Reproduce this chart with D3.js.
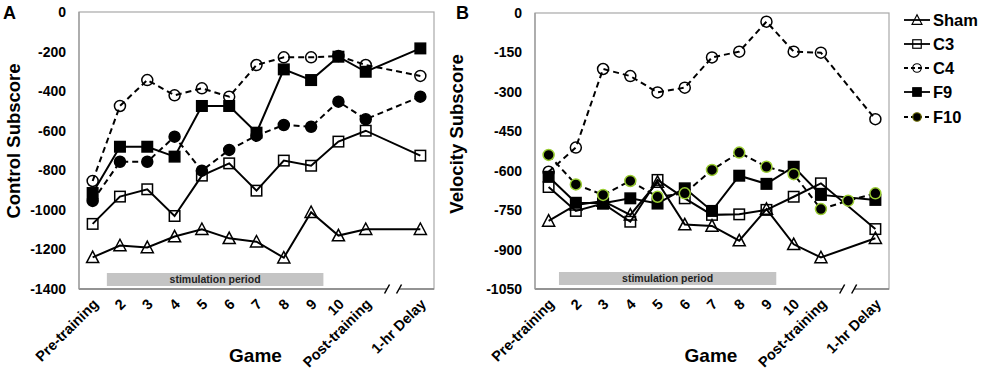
<!DOCTYPE html>
<html><head><meta charset="utf-8">
<script src="https://cdn.jsdelivr.net/npm/d3@7/dist/d3.min.js"></script>
<style>
body{margin:0;background:#fff;}
svg{display:block;font-family:"Liberation Sans",Arial,sans-serif;}
</style></head>
<body>
<svg id="chart" width="982" height="373"></svg>
<script>
// ---- data ----
const categories = ["Pre-training","2","3","4","5","6","7","8","9","10","Post-training","gap","1-hr Delay"];
const tickLabels = ["Pre-training","2","3","4","5","6","7","8","9","10","Post-training","","1-hr Delay"];
const seriesNames = ["Sham","C3","C4","F9","F10"];

// Panel A: Control Subscore
const shamA = [-1240,-1180,-1190,-1135,-1098,-1144,-1161,-1242,-1012,-1130,-1098,null,-1098];
const c3A   = [-1071,-933,-896,-1031,-827,-765,-903,-751,-777,-655,-600,null,-726];
const c4A   = [-854,-475,-344,-421,-386,-428,-268,-229,-229,-222,-268,null,-323];
const f9A   = [-915,-681,-681,-731,-475,-475,-610,-290,-344,-226,-302,null,-184];
const f10A  = [-955,-757,-757,-630,-802,-697,-625,-571,-580,-453,-542,null,-428];
const yTicksA = [0,-200,-400,-600,-800,-1000,-1200,-1400];

// Panel B: Velocity Subscore
const shamB = [-791,-730,-715,-768,-643,-805,-810,-866,-746,-880,-930,null,-857];
const c3B   = [-662,-753,-725,-794,-635,-705,-768,-766,-749,-699,-648,null,-822];
const c4B   = [-604,-512,-213,-240,-302,-284,-169,-147,-33,-147,-151,null,-404];
const f9B   = [-623,-722,-724,-705,-725,-667,-753,-619,-650,-585,-692,null,-711];
const f10B  = [-540,-652,-692,-639,-699,-686,-597,-531,-585,-613,-746,-714,-686];
const yTicksB = [0,-150,-300,-450,-600,-750,-900,-1050];

const stimStart = "Pre-training", stimEnd = "9"; // bar spans half a slot beyond these

// ---- styles ----
const styles = {
  Sham:{shape:"triangle", fill:"none", stroke:"#000", dash:null},
  C3:{shape:"square", fill:"none", stroke:"#000", dash:null},
  C4:{shape:"circle", fill:"none", stroke:"#000", dash:"6,4"},
  F9:{shape:"square", fill:"#000", stroke:"#000", dash:null},
  F10:{shape:"circle", fill:"#000", stroke:"#000", dash:"6,4"}
};

const svg = d3.select("#chart");

function marker(g, shape, x, y, size, fill, stroke, sw){
  if(shape==="square"){
    g.append("rect").attr("x",x-size/2).attr("y",y-size/2).attr("width",size).attr("height",size)
      .attr("fill",fill).attr("stroke",stroke).attr("stroke-width",sw);
  } else if(shape==="circle"){
    g.append("circle").attr("cx",x).attr("cy",y).attr("r",size/2)
      .attr("fill",fill).attr("stroke",stroke).attr("stroke-width",sw);
  } else {
    const h=size*0.95, w=size*1.1;
    g.append("path").attr("d",`M${x},${y-h/2-1}L${x+w/2},${y+h/2}L${x-w/2},${y+h/2}Z`)
      .attr("fill",fill).attr("stroke",stroke).attr("stroke-width",sw);
  }
}

function panel(opt){
  const {x0,x1,yTop,yBot,domainMin,ticks,series,title,letter,letterX,titleX,titleY,f10Stroke,stimX0Off,stimX1Off,stimY} = opt;
  const x = d3.scalePoint().domain(categories).range([x0,x1]).padding(0.5);
  const y = d3.scaleLinear().domain([domainMin,0]).range([yBot,yTop]);
  const g = svg.append("g");
  const step = x.step();

  // frame
  g.append("rect").attr("x",x0).attr("y",yTop).attr("width",x1-x0).attr("height",yBot-yTop)
    .attr("fill","none").attr("stroke","#a8a8a8").attr("stroke-width",1.2);
  g.append("line").attr("x1",x0).attr("x2",x1).attr("y1",yBot).attr("y2",yBot).attr("stroke","#808080").attr("stroke-width",1.5);
  g.append("line").attr("x1",x0).attr("x2",x0).attr("y1",yTop).attr("y2",yBot).attr("stroke","#9a9a9a").attr("stroke-width",1.2);

  // axis break
  const bx = x("gap");
  g.append("rect").attr("x",bx-6).attr("y",yBot-3).attr("width",12).attr("height",6).attr("fill","#fff");
  [-6,6].forEach(o=>{
    g.append("line").attr("x1",bx+o-2.5).attr("y1",yBot+4.5).attr("x2",bx+o+2.5).attr("y2",yBot-4.5)
      .attr("stroke","#000").attr("stroke-width",1.5);
  });

  // stimulation bar
  const sx0 = x(stimStart)+step*stimX0Off, sx1 = x(stimEnd)+step*stimX1Off;
  g.append("rect").attr("x",sx0).attr("y",stimY).attr("width",sx1-sx0).attr("height",13).attr("fill","#c4c4c4");
  g.append("text").attr("x",(sx0+sx1)/2).attr("y",stimY+10).attr("text-anchor","middle")
    .attr("font-size",10.5).attr("font-weight","bold").attr("fill","#222").text("stimulation period");

  // y axis
  const ya = d3.axisLeft(y).tickValues(ticks).tickSize(0).tickPadding(13).tickFormat(d=>String(d));
  const yg = g.append("g").attr("transform",`translate(${x0},0)`).call(ya);
  yg.select(".domain").remove();
  yg.selectAll("text").attr("font-size",14).attr("font-weight","bold").attr("fill","#000")
    .attr("font-family","'Liberation Sans',Arial,sans-serif");

  // x axis
  const xa = d3.axisBottom(x).tickSize(0).tickFormat((d,i)=>tickLabels[i]);
  const xg = g.append("g").attr("transform",`translate(0,${yBot})`).call(xa);
  xg.select(".domain").remove();
  xg.selectAll(".tick text").attr("font-size",14.5).attr("font-weight","bold").attr("fill","#000")
    .attr("font-family","'Liberation Sans',Arial,sans-serif")
    .attr("text-anchor","end").attr("dy",null).attr("y",0)
    .attr("transform","translate(6,16) rotate(-45)");

  // titles
  g.append("text").attr("x",(x0+x1)/2 - 1).attr("y",362).attr("text-anchor","middle")
    .attr("font-size",19).attr("font-weight","bold").text("Game");
  g.append("text").attr("transform",`translate(${titleX},${titleY}) rotate(-90)`).attr("text-anchor","middle")
    .attr("font-size",18.5).attr("font-weight","bold").text(title);
  g.append("text").attr("x",letterX).attr("y",19).attr("font-size",18).attr("font-weight","bold").text(letter);

  // series
  const line = d3.line().defined(d=>d.v!==null).x(d=>x(d.c)).y(d=>y(d.v));
  series.forEach((vals,si)=>{
    const name = seriesNames[si], st = styles[name];
    const pts = vals.map((v,i)=>({c:categories[i],v})).filter(d=>d.v!==null);
    g.append("path").datum(pts).attr("d",line).attr("fill","none").attr("stroke","#000")
      .attr("stroke-width",2).attr("stroke-dasharray",st.dash);
    const mg = g.append("g");
    const stroke = (name==="F10" && f10Stroke) ? f10Stroke : st.stroke;
    pts.forEach(d=>marker(mg, st.shape, x(d.c), y(d.v), st.shape==="triangle"?11:(st.shape==="circle"?11:10.5), st.fill, stroke, 1.5));
  });
}

panel({x0:79,x1:434,yTop:12,yBot:289,domainMin:-1400,ticks:yTicksA,series:[shamA,c3A,c4A,f9A,f10A],
  title:"Control Subscore",letter:"A",letterX:3,titleX:20,titleY:141,f10Stroke:null,stimX0Off:0.52,stimX1Off:0.45,stimY:273});
panel({x0:535,x1:889,yTop:13,yBot:289,domainMin:-1050,ticks:yTicksB,series:[shamB,c3B,c4B,f9B,f10B],
  title:"Velocity Subscore",letter:"B",letterX:456,titleX:463,titleY:134,f10Stroke:"#9acd32",stimX0Off:0.38,stimX1Off:0.36,stimY:272});

// legend
const lg = svg.append("g");
const legendY = [20,44,68,92,117];
seriesNames.forEach((name,i)=>{
  const st = styles[name], yy = legendY[i];
  lg.append("line").attr("x1",904).attr("x2",930).attr("y1",yy).attr("y2",yy).attr("stroke","#000")
    .attr("stroke-width",1.8).attr("stroke-dasharray",st.dash?"4,3":null);
  marker(lg, st.shape, 917, yy, st.shape==="triangle"?9:8.5, st.fill, name==="F10"?"#6b6b00":"#000", 1.2);
  lg.append("text").attr("x",933).attr("y",yy+6).attr("font-size",16.5).attr("font-weight","bold").text(name);
});
</script>
</body></html>
